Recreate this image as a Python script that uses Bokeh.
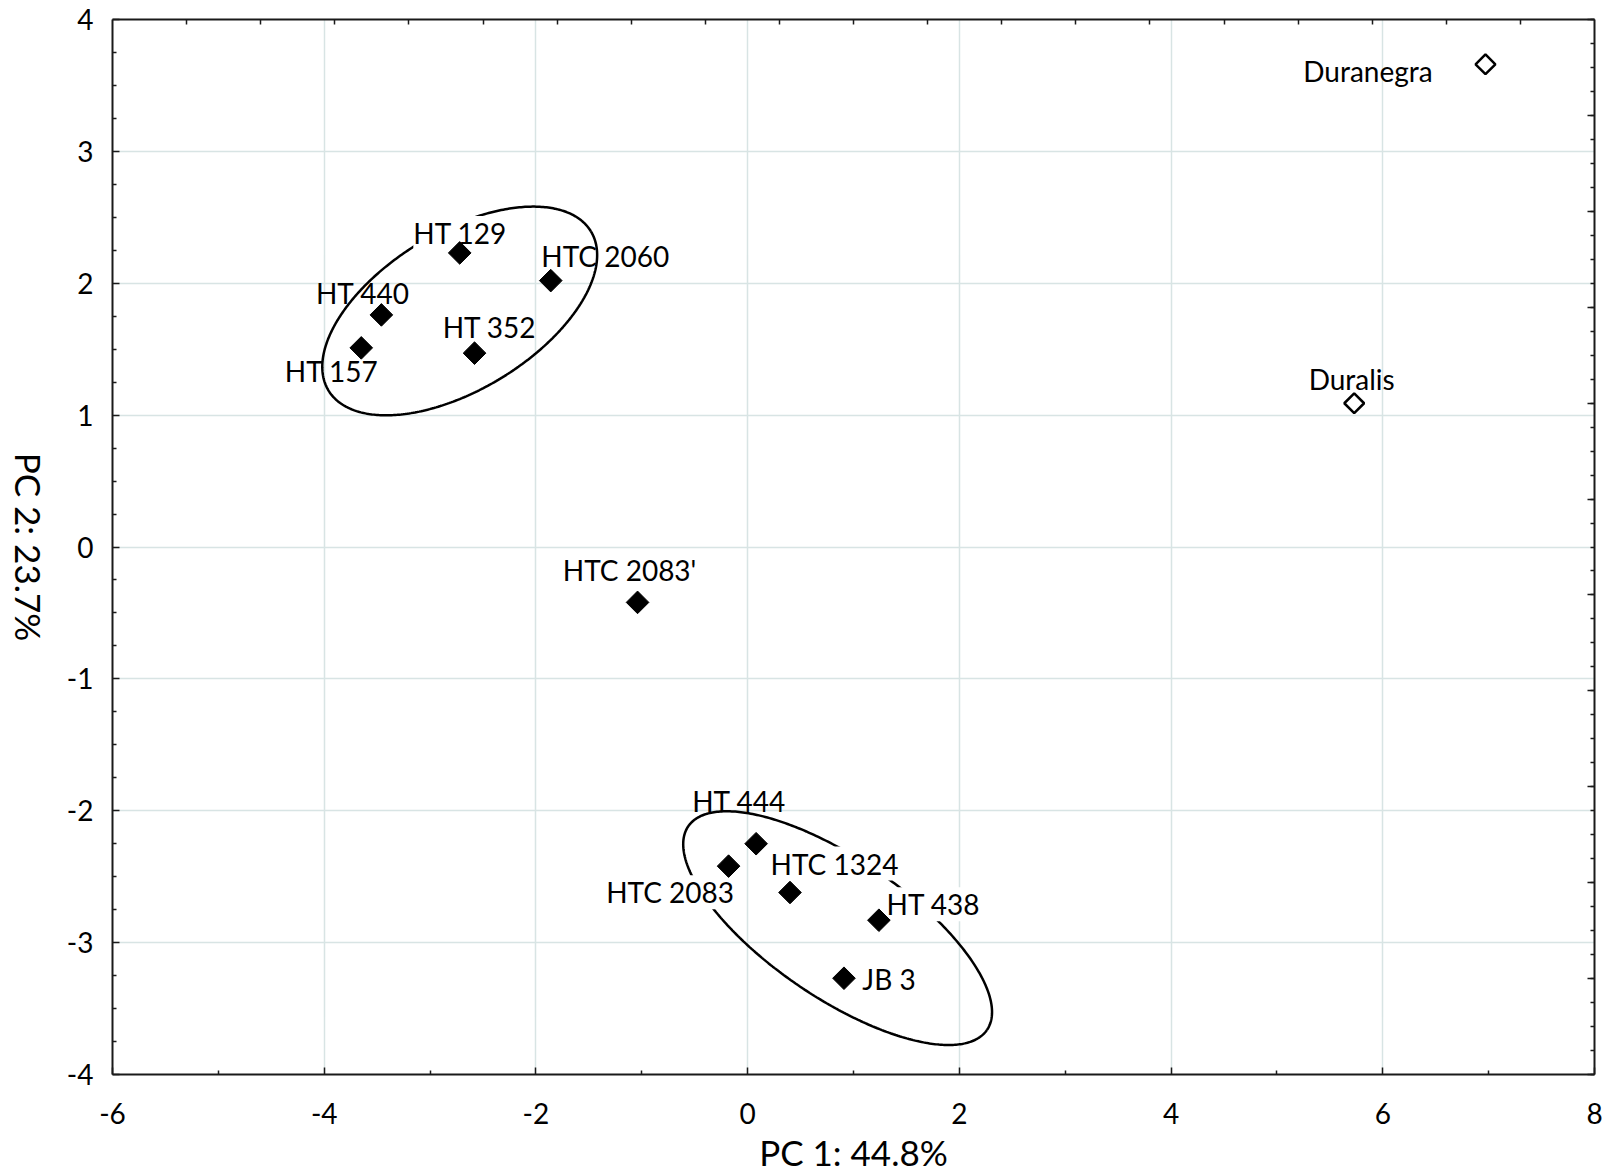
import numpy as np
from bokeh.plotting import figure
from bokeh.layouts import row
from bokeh.models import (ColumnDataSource, Range1d, LinearAxis, FixedTicker,
                          LabelSet, Label, CustomJSTickFormatter)
from bokeh.core.properties import value
from bokeh.embed import file_html
from bokeh.resources import INLINE

# ---------------- data ----------------
genotypes = ["HT 129", "HTC 2060", "HT 440", "HT 157", "HT 352", "HTC 2083'",
             "HT 444", "HTC 2083", "HTC 1324", "HT 438", "JB 3",
             "Duranegra", "Duralis"]
pc1 = [-2.72, -1.86, -3.46, -3.65, -2.58, -1.04,
       0.08, -0.18, 0.40, 1.24, 0.91,
       6.97, 5.73]
pc2 = [2.23, 2.02, 1.76, 1.51, 1.47, -0.42,
       -2.25, -2.42, -2.62, -2.83, -3.27,
       3.66, 1.09]
check_cultivar = [False] * 11 + [True, True]   # drawn as open diamonds

x_ticks = [-6, -4, -2, 0, 2, 4, 6, 8]
x_tick_labels = ["-6", "-4", "-2", "0", "2", "4", "6", "8"]
y_ticks = [-4, -3, -2, -1, 0, 1, 2, 3, 4]
y_tick_labels = ["-4", "-3", "-2", "-1", "0", "1", "2", "3", "4"]
x_title = "PC 1: 44.8%"
y_title = "PC 2: 23.7%"

# cluster ellipses: centre and two conjugate semi-axis vectors (PC units)
ell_cx = [-2.72, 0.85]
ell_cy = [1.79, -2.89]
ell_ux = [1.239, 1.411]
ell_uy = [0.604, -0.772]
ell_vx = [-0.388, -0.370]
ell_vy = [0.511, -0.435]

# label placement (screen px from the point: right / up) and white masking
label_dx = [0.5, 54.5, -18.5, -29.5, 15, -8, -17, -58.5, 44.5, 54.5, 45, -117.5, -2.5]
label_up = [9, 14, 11, -34, 15, 21, 32, -37, 18, 5, -12, -18, 13]
label_masked = [True, False, False, False, False, False,
                False, True, True, True, False, False, False]

FONT = "Lato"
AXIS_COLOR = "#1a1a1a"
GRID_COLOR = "#d8e4e4"
H = 1175
TOP, BOTTOM = 19, 99
TITLE_W = 50

# ---------------- main figure ----------------
p = figure(width=1610 - TITLE_W, height=H,
           x_range=Range1d(x_ticks[0], x_ticks[-1]),
           y_range=Range1d(y_ticks[0], y_ticks[-1]),
           output_backend="svg", toolbar_location=None,
           min_border_left=112 - TITLE_W, min_border_right=16,
           min_border_top=TOP, min_border_bottom=BOTTOM)
p.background_fill_color = "white"
p.border_fill_color = "white"
p.outline_line_color = None

def minor_between(ticks, n):
    out = []
    for a, b in zip(ticks[:-1], ticks[1:]):
        step = (b - a) / n
        out += [a + k * step for k in range(1, n)]
    return out

xt = FixedTicker(ticks=x_ticks, minor_ticks=minor_between(x_ticks, 2))
yt = FixedTicker(ticks=y_ticks, minor_ticks=minor_between(y_ticks, 4))

def style_axis(ax):
    ax.axis_line_color = AXIS_COLOR
    ax.axis_line_width = 2
    ax.major_tick_line_color = AXIS_COLOR
    ax.minor_tick_line_color = AXIS_COLOR
    ax.major_tick_line_width = 1.5
    ax.minor_tick_line_width = 1.5
    ax.major_tick_out = 0
    ax.minor_tick_out = 0
    ax.major_tick_in = 7
    ax.minor_tick_in = 4
    ax.major_label_text_font = FONT
    ax.major_label_text_font_size = "28px"
    ax.major_label_text_color = "black"
    ax.axis_label_text_font = FONT
    ax.axis_label_text_font_size = "35px"
    ax.axis_label_text_font_style = "normal"
    ax.axis_label_text_color = "black"

xa = p.xaxis[0]
ya = p.yaxis[0]
xa.ticker = xt
ya.ticker = yt
xa.major_label_overrides = {t: s for t, s in zip(x_ticks, x_tick_labels)}
ya.major_label_overrides = {t: s for t, s in zip(y_ticks, y_tick_labels)}
style_axis(xa)
style_axis(ya)
xa.major_label_standoff = 28
ya.major_label_standoff = 19
xa.axis_label = x_title
xa.axis_label_standoff = 4

p.xgrid.ticker = xt
p.ygrid.ticker = yt
for g in (p.xgrid[0], p.ygrid[0]):
    g.grid_line_color = GRID_COLOR
    g.grid_line_width = 1.5

# top and right frame axes (ticks only)
p.extra_x_ranges = {"top": Range1d(0, 20)}
p.extra_y_ranges = {"right": Range1d(0, 11)}
top = LinearAxis(x_range_name="top",
                 ticker=FixedTicker(ticks=[], minor_ticks=list(range(1, 20))))
right = LinearAxis(y_range_name="right",
                   ticker=FixedTicker(ticks=list(range(0, 12)),
                                      minor_ticks=[k / 4 for k in range(45)]),
                   formatter=CustomJSTickFormatter(code="return ''"))
for ax in (top, right):
    style_axis(ax)
    ax.major_label_standoff = 0
top.minor_tick_in = 5
p.add_layout(top, "above")
p.add_layout(right, "right")

# ---------------- ellipses ----------------
t = np.linspace(0, 2 * np.pi, 400)
for cx, cy, ux, uy, vx, vy in zip(ell_cx, ell_cy, ell_ux, ell_uy, ell_vx, ell_vy):
    ex = cx + ux * np.cos(t) + vx * np.sin(t)
    ey = cy + uy * np.cos(t) + vy * np.sin(t)
    p.line(ex, ey, line_color="black", line_width=2.5)

# ---------------- labels ----------------
def sub(mask):
    idx = [i for i, m in enumerate(mask) if m]
    return ColumnDataSource(dict(
        x=[pc1[i] for i in idx], y=[pc2[i] for i in idx],
        name=[genotypes[i] for i in idx],
        dx=[label_dx[i] for i in idx], dy=[label_up[i] for i in idx]))

common = dict(x="x", y="y", text="name", x_offset="dx", y_offset="dy",
              text_align="center", text_baseline="alphabetic",
              text_font=value(FONT), text_font_size=value("28px"),
              text_color="black")
p.add_layout(LabelSet(source=sub([not m for m in label_masked]), **common))
p.add_layout(LabelSet(source=sub(label_masked), background_fill_color="white",
                      background_fill_alpha=1.0, **common))

# ---------------- markers ----------------
filled = ColumnDataSource(dict(
    x=[a for a, c in zip(pc1, check_cultivar) if not c],
    y=[b for b, c in zip(pc2, check_cultivar) if not c]))
hollow = ColumnDataSource(dict(
    x=[a for a, c in zip(pc1, check_cultivar) if c],
    y=[b for b, c in zip(pc2, check_cultivar) if c]))
r1 = p.scatter("x", "y", source=filled, marker="square", angle=np.pi / 4, size=16,
               fill_color="black", line_color="black", line_width=1)
r2 = p.scatter("x", "y", source=hollow, marker="square", angle=np.pi / 4, size=14,
               fill_color="white", line_color="black", line_width=2.5)
r1.level = "overlay"
r2.level = "overlay"

# ---------------- y-axis title (reads top to bottom) ----------------
pt = figure(width=TITLE_W, height=H, x_range=Range1d(0, TITLE_W), y_range=p.y_range,
            output_backend="svg", toolbar_location=None,
            x_axis_location=None, y_axis_location=None,
            min_border_left=0, min_border_right=0,
            min_border_top=TOP, min_border_bottom=BOTTOM)
pt.xgrid.visible = False
pt.ygrid.visible = False
pt.outline_line_color = None
pt.background_fill_color = "white"
pt.border_fill_color = "white"
pt.add_layout(Label(x=28, y=(y_ticks[0] + y_ticks[-1]) / 2, text=y_title,
                    angle=-np.pi / 2, text_align="center", text_baseline="middle",
                    text_font=FONT, text_font_size="35px", text_color="black"))

layout = row(pt, p, spacing=0)
open("out.html", "w").write(file_html(layout, INLINE))
